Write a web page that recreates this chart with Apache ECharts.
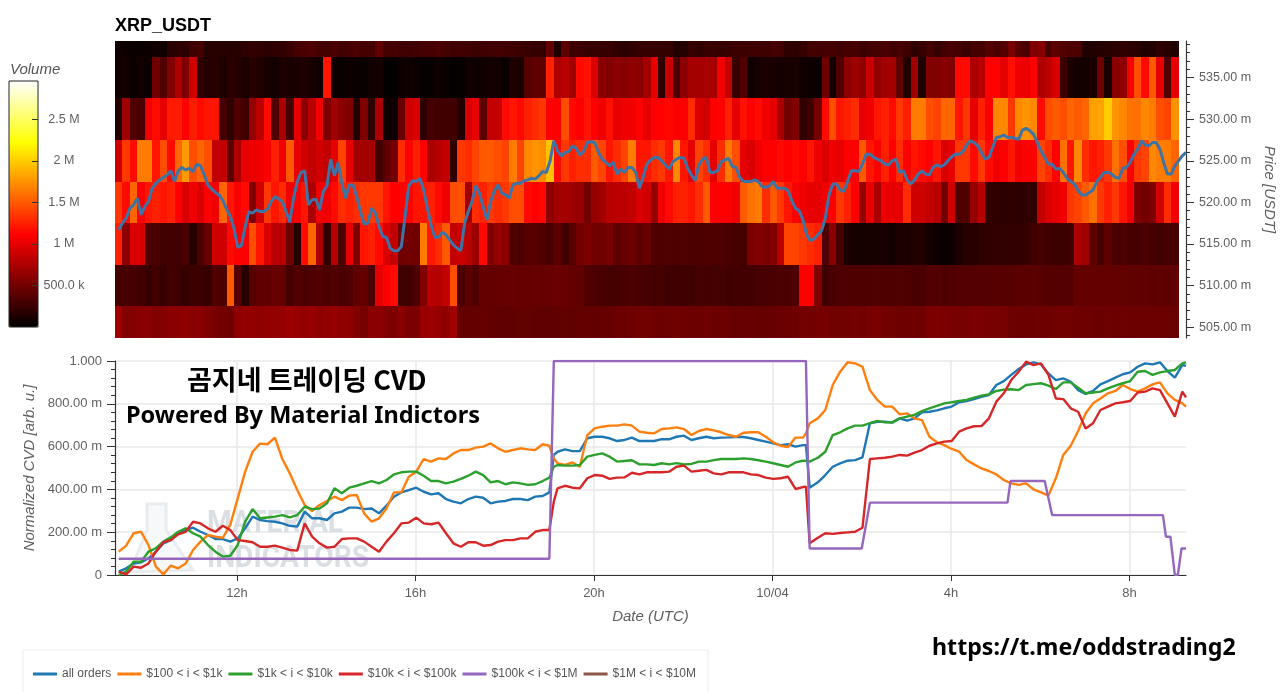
<!DOCTYPE html>
<html><head><meta charset="utf-8">
<style>html,body{margin:0;padding:0;background:#fff}#c{width:1280px;height:692px}</style>
<script src="https://cdn.jsdelivr.net/npm/echarts@6/dist/echarts.min.js"></script>
</head><body><div id="c"></div>
<script>
// ---------- heatmap: traded volume (thousands) per 10-minute column, one list per price level
const priceLevels = [505, 510, 515, 520, 525, 530, 535, 540];
const vol540 = [60,60,50,50,60,70,70,180,210,190,280,300,170,180,170,160,170,200,220,210,190,200,220,250,300,320,330,310,300,320,290,310,330,300,310,420,
300,300,280,270,290,300,310,320,300,280,290,270,260,280,270,290,280,270,260,250,240,230,440,130,400,260,270,240,250,230,250,200,190,210,230,240,
240,230,230,140,160,240,210,250,250,240,250,260,260,270,280,260,310,280,200,200,230,300,290,300,310,270,300,310,260,290,300,320,280,300,280,200,240,
300,230,290,320,290,250,310,300,380,320,370,520,380,320,550,580,320,400,360,340,330,150,140,160,170,190,210,190,170,130,150,200,170,140];
const vol535 = [60,90,50,80,50,480,340,560,760,550,900,200,150,170,130,190,160,120,170,150,100,90,130,110,120,130,100,80,1200,60,40,60,50,40,70,90,
20,20,60,70,50,30,30,60,50,20,30,70,60,70,90,80,50,130,120,380,420,400,1250,760,800,700,1150,1180,950,600,560,620,580,620,600,720,
1000,200,870,340,600,720,720,730,720,1050,850,250,350,80,100,120,110,90,100,110,70,60,50,480,100,350,620,680,620,870,640,700,720,420,150,700,150,
560,560,600,560,1150,1150,750,800,1100,1120,1000,1180,1050,1030,1100,750,820,950,260,120,90,90,110,480,100,600,620,1060,1450,1150,1500,1000,350,1000];
const vol530 = [150,700,350,320,1050,1150,1000,1220,1230,1100,1230,1150,1200,1200,300,200,350,280,650,820,1150,350,750,300,1000,600,800,1050,550,700,600,550,150,550,200,750,
60,60,450,900,950,200,300,280,280,280,150,950,1000,400,850,850,1150,1200,1150,1250,1300,1350,1100,1100,1450,1150,1100,1200,1100,1050,1180,1000,1050,1050,1100,1000,
1100,1120,1130,1100,1090,1300,950,900,1100,1120,1250,1000,1180,1100,1150,1050,1000,750,500,560,200,280,500,1150,1450,1200,1250,1300,1000,1050,1200,1250,1150,1350,1250,1650,1650,
1450,1400,1550,1550,1200,1350,1000,1250,1100,1700,1700,1350,1700,1750,1700,1150,1450,1500,1450,1550,1500,1550,1800,1820,2000,1750,1700,1600,1600,1700,1650,1450,1400,1750];
const vol525 = [900,1350,1150,1650,1650,1200,1450,1150,1550,1780,1450,1550,1450,850,850,400,750,1000,1020,1050,1100,1250,1050,1500,1000,900,850,900,850,1000,1400,1000,700,720,720,280,
400,500,1300,1100,1250,1100,750,800,850,200,1350,1300,1400,1500,1500,1450,1400,1650,1400,1700,1750,1720,1950,1150,1350,1250,1300,1300,1500,1400,1200,1300,1400,1650,1200,1200,
1300,1350,1200,1700,1200,1000,1400,1300,1000,1300,1650,1450,1000,950,1050,1100,1100,1150,1100,1150,1100,1200,1050,950,1050,1000,1100,1100,1500,1200,1100,1250,1100,1300,1100,1200,1150,
1100,1200,950,1000,1350,1350,1150,1350,1150,1050,1100,1200,1050,1100,1120,1400,1300,1120,1600,1200,1700,1300,1200,1250,1350,1600,1450,1100,1350,1400,1700,1650,1650,1550];
const vol520 = [1350,1150,1550,1100,1200,1250,1200,1250,1100,950,1050,950,1100,1050,1550,1200,1100,1150,550,900,1350,1200,1300,1050,1100,1200,750,1050,1050,1150,1300,1250,1300,1350,1350,1350,
1200,1100,1120,1120,1200,1200,1250,1150,1050,1450,1450,700,1300,1250,1350,1300,1350,1450,1450,1150,1120,1150,620,700,720,680,650,500,650,700,800,820,820,850,950,900,
650,1050,1150,1250,1250,1200,1300,1500,1100,1100,1100,1050,1500,1600,1650,1300,1500,1350,1200,1100,1050,1000,1000,1050,1100,1350,1250,1100,650,1000,750,1020,1000,1000,1300,900,900,
850,800,500,900,350,350,650,800,220,200,190,200,190,210,200,850,950,1000,1050,1350,1400,1500,1600,1350,1250,1350,1200,1050,550,500,550,900,1300,1050];
const vol515 = [1250,620,950,950,330,320,280,290,270,320,170,330,450,900,900,1150,1100,1100,1450,1200,950,800,800,480,160,1150,1550,750,220,800,320,1000,550,1200,1250,1150,
950,850,480,500,480,1650,1200,1300,1500,850,880,800,680,1150,550,650,600,350,320,380,380,350,320,400,280,380,500,550,500,480,520,400,450,480,400,450,
350,330,350,340,350,330,330,340,340,330,320,300,300,540,560,540,560,800,1400,1400,1350,1300,1250,350,600,300,120,100,100,110,100,110,80,120,120,150,140,
90,60,40,60,130,170,180,200,210,220,210,220,220,230,280,300,280,260,260,280,750,700,400,300,400,320,330,310,300,320,300,280,300,300];
const vol510 = [300,300,310,280,240,280,240,290,260,240,260,260,240,350,340,1500,380,180,380,420,420,450,440,300,360,320,340,360,330,360,320,340,420,440,320,1000,
1100,1150,280,280,350,560,800,780,850,1450,320,400,350,440,440,440,450,450,440,440,450,440,450,460,450,430,420,350,330,320,300,310,320,330,320,310,
290,300,270,280,270,280,300,290,300,300,280,290,290,290,300,320,320,330,320,350,1100,1100,550,280,320,330,340,340,340,340,350,340,340,350,340,320,320,
360,360,340,350,360,360,370,370,370,380,380,380,390,390,390,380,370,370,370,370,430,430,430,440,440,430,430,420,420,420,410,420,410,420];
const vol505 = [700,560,580,590,590,560,580,600,600,620,590,600,560,520,500,480,620,640,640,620,640,650,650,680,650,640,660,620,640,650,630,620,560,520,600,600,
560,540,600,540,540,660,680,650,630,700,430,430,440,440,420,420,420,420,430,430,420,420,420,420,430,420,430,430,420,440,450,460,470,480,490,490,
480,470,480,490,480,470,460,480,470,460,460,450,450,450,440,440,450,460,470,480,510,500,510,520,500,500,490,510,500,520,530,500,500,480,480,480,480,
540,540,530,520,520,520,530,530,520,520,520,480,470,470,470,480,480,490,490,490,480,480,470,460,480,470,480,470,470,470,460,470,460,460];
const volumeRows = [vol505, vol510, vol515, vol520, vol525, vol530, vol535, vol540];
const columnMinutes = 10;

// ---------- price line: one value every 5 minutes
const priceValues = [516.7,517.5,518.1,519.3,519.7,520.5,518.5,519.5,520.1,521.7,522.3,522.7,523.0,523.3,523.8,522.5,523.8,524.2,523.9,524.1,523.7,524.6,524.4,523.3,522.1,521.6,521.2,520.9,520.2,519.2,518.3,516.9,514.6,514.8,517.1,518.9,518.7,519.1,518.9,518.9,519.2,520.1,520.7,520.4,520.1,518.9,517.6,520.5,522.5,523.6,523.8,519.7,520.3,520.4,519.1,521.3,522.0,525.2,523.2,524.8,522.3,520.5,522.1,522.1,520.7,518.9,517.4,517.5,519.3,518.7,517.1,
515.9,515.8,514.5,514.2,514.2,514.7,518.3,522.0,522.6,522.5,522.9,521.5,519.3,517.3,515.8,515.8,516.4,516.1,515.5,514.9,514.5,514.2,517.5,518.9,520.1,522.0,521.1,519.5,517.9,520.1,521.4,522.1,521.1,520.9,520.5,522.1,522.3,522.3,522.6,522.7,522.9,522.8,523.2,523.7,523.6,525.0,527.4,526.2,525.6,526.0,526.1,526.8,526.5,525.7,526.1,527.2,527.3,527.2,526.0,525.2,524.8,524.4,524.8,523.4,524.0,523.6,524.2,524.2,523.6,521.7,523.0,524.6,525.1,
525.4,525.4,525.0,524.5,524.0,524.9,525.2,525.4,525.3,524.1,523.3,522.6,524.5,525.2,525.4,523.6,523.6,523.8,524.9,525.1,525.3,524.3,524.2,523.0,522.5,522.5,522.5,522.7,522.5,521.9,521.8,522.0,522.5,521.7,521.7,521.7,521.4,520.2,519.3,519.0,517.9,516.1,515.4,515.6,516.1,516.6,518.1,520.9,522.2,522.2,521.5,521.3,522.5,523.8,523.8,523.7,524.6,525.8,525.8,525.4,525.2,525.0,524.6,524.5,525.0,525.2,523.6,523.8,522.7,522.2,522.7,523.4,
523.8,523.4,523.3,524.2,524.5,524.3,524.5,525.0,525.5,525.8,525.8,526.1,526.9,527.4,527.2,526.8,526.0,525.2,525.4,526.6,527.8,527.9,528.1,527.8,527.8,527.7,527.6,528.7,528.9,528.6,528.2,527.2,526.2,525.4,524.6,524.6,524.0,524.1,523.6,522.9,522.5,522.2,521.4,520.9,520.9,521.2,521.5,522.5,523.0,523.6,523.6,523.4,523.0,522.9,524.1,524.2,524.8,525.8,526.4,527.4,526.9,526.8,527.2,527.2,526.4,524.8,523.4,523.4,524.4,525.0,525.6,526.0];
const priceStepMinutes = 5;

// ---------- normalized CVD
const cvdMinutes = [5,15,25,35,45,55,65,75,85,95,105,115,125,135,145,155,165,175,185,195,205,215,225,235,245,255,265,275,285,295,305,315,325,335,345,355,
365,375,385,395,405,415,425,435,445,455,465,475,485,495,505,515,525,535,545,555,565,575,584,590,595,605,615,625,635,645,655,665,675,685,695,705,715,
725,735,745,755,765,775,785,795,805,815,825,835,845,855,865,875,885,895,905,915,925,929,934,945,955,965,975,985,995,1005,1015,1025,1035,1045,1055,1065,1075,
1085,1095,1105,1115,1125,1135,1145,1155,1165,1175,1185,1195,1205,1215,1225,1235,1245,1255,1265,1275,1285,1295,1305,1315,1325,1335,1345,1355,1365,1375,1385,1395,1405,1415,1425,1435,1440];
const cvdAll = [16,31,54,59,78,109,148,163,195,210,221,202,187,168,168,156,171,218,273,257,252,249,241,230,226,296,265,265,257,288,296,315,315,308,311,288,
324,366,386,397,408,389,377,382,355,343,335,355,366,361,335,343,346,355,355,350,366,369,386,561,576,587,579,579,639,646,646,639,626,631,642,626,626,
626,635,634,646,651,631,639,646,639,642,643,645,645,639,631,623,615,607,611,600,607,607,408,433,467,506,522,534,537,550,709,716,716,712,732,721,732,
760,763,769,779,787,807,813,822,833,841,888,906,935,963,984,994,984,942,911,919,903,864,846,860,891,906,922,938,947,973,989,984,994,953,922,981,978];
const cvd100 = [109,137,195,202,140,39,3,44,31,54,117,156,187,179,174,234,358,483,576,614,611,642,542,475,397,327,299,327,346,366,350,371,374,288,249,265,
311,386,386,459,483,542,530,545,542,568,584,584,595,600,615,592,576,584,592,587,584,611,604,545,522,514,526,506,654,685,693,698,698,704,698,670,665,
662,682,685,690,682,654,673,682,676,667,654,646,665,667,667,646,620,604,598,642,642,662,709,732,771,888,950,994,989,973,864,818,787,787,751,755,732,
724,646,620,607,589,576,537,517,498,486,470,444,428,421,428,400,386,371,452,561,604,673,755,802,825,849,860,888,869,857,872,891,900,849,818,802,787];
const cvd1k = [0,16,62,62,109,125,156,176,202,218,195,179,140,109,86,90,140,249,308,265,269,273,280,269,280,319,308,311,335,405,382,408,417,428,439,428,
444,470,480,483,483,464,439,439,428,436,449,464,483,467,433,439,424,433,428,421,424,439,455,506,514,511,511,514,553,561,568,553,530,533,536,517,517,
514,522,517,523,517,519,530,530,537,542,542,542,545,542,536,530,522,514,506,526,534,534,530,548,576,654,667,685,698,698,710,720,713,713,732,740,748,
766,779,790,802,807,813,818,829,838,844,860,866,868,864,888,892,896,885,869,900,900,875,849,853,857,872,885,896,906,950,953,935,947,953,958,989,994];
const cvd10k = [16,3,39,34,54,109,153,163,190,202,249,241,218,202,230,210,163,159,153,132,132,137,128,117,114,241,179,148,128,132,168,171,171,156,132,109,
156,195,241,245,268,241,237,245,195,148,132,153,153,137,140,156,163,163,171,171,202,210,210,343,405,417,408,405,452,467,464,449,455,456,478,470,480,
480,480,483,506,511,483,487,491,475,470,480,480,480,470,467,455,449,452,459,402,411,413,148,174,195,192,196,199,202,221,542,545,548,553,561,558,572,
584,604,615,623,626,670,685,695,696,732,810,849,911,950,997,981,989,935,825,822,779,763,685,709,771,787,802,807,813,853,857,872,864,802,740,857,830];
const cvd100kMinutes = [5,584,590,929,934,1004,1015,1200,1204,1250,1260,1409,1413,1419,1425,1429,1434,1440];
const cvd100k = [76,76,1000,1000,124,124,338,338,439,439,280,280,179,179,0,0,124,124];
const cvd1M = [];

const seriesNames = ['all orders','$100 < i < $1k','$1k < i < $10k','$10k < i < $100k','$100k < i < $1M','$1M < i < $10M'];
const seriesColors = ['#1f77b4','#ff7f0e','#2ca02c','#d62728','#9467bd','#8c564b'];

// ---------- ticks
const timeTickMinutes = [164,404,644,884,1124,1364];
const timeTickLabels = ['12h','16h','20h','10/04','4h','8h'];
const priceTicks = [505,510,515,520,525,530,535];
const priceMinorTicks = [504,505,506,507,508,509,510,511,512,513,514,515,516,517,518,519,520,521,522,523,524,525,526,527,528,529,530,531,532,533,534,535,536,537,538,539];
const volumeTicks = [500,1000,1500,2000,2500];
const volumeTickLabels = ['500.0 k','1 M','1.5 M','2 M','2.5 M'];
const hotPalette = ['#000000','#550000','#aa0000','#ff0000','#ff5500','#ffaa00','#ffff00','#ffff80','#ffffff'];

const heatData = [];
volumeRows.forEach((row, r) => row.forEach((v, i) => heatData.push([i * columnMinutes, priceLevels[r], v])));
const pricePoints = priceValues.map((p, i) => [(i + 1) * priceStepMinutes, p]);
const pair = (xs, ys) => xs.map((x, i) => [x, ys[i] / 1000]);

const F = '"Liberation Sans", Arial, sans-serif';
const G = '#5f5f5f';

function renderCell(params, api) {
  const a = api.coord([api.value(0), api.value(1) + 2.5]);
  const b = api.coord([api.value(0) + columnMinutes, api.value(1) - 2.5]);
  const cs = params.coordSys;
  const rect = echarts.graphic.clipRectByRect(
    {x: Math.round(a[0]), y: Math.round(a[1]), width: Math.round(b[0]) - Math.round(a[0]), height: Math.round(b[1]) - Math.round(a[1])},
    {x: cs.x, y: cs.y, width: cs.width, height: cs.height});
  return rect && {type: 'rect', shape: rect, style: {fill: api.visual('color')}};
}

const lineSeries = (i, data) => ({
  name: seriesNames[i], type: 'line', xAxisIndex: 1, yAxisIndex: 2, data, showSymbol: false, symbol: 'none',
  smooth: false, lineStyle: {width: 2.4, color: seriesColors[i]}, itemStyle: {color: seriesColors[i]}, z: 3 + i
});

const chart = echarts.init(document.getElementById('c'), null, {renderer: 'canvas'});
chart.setOption({
  animation: false,
  backgroundColor: '#fff',
  grid: [
    {left: 115, top: 41, width: 1071, height: 297, outerBoundsMode: 'none'},
    {left: 115, top: 361, width: 1071, height: 214, outerBoundsMode: 'none'},
    {left: 9, top: 81, width: 29, height: 246, outerBoundsMode: 'none', show: true, borderColor: '#222', borderWidth: 1, backgroundColor: 'transparent', z: 10}
  ],
  xAxis: [
    {gridIndex: 0, type: 'value', min: 0, max: 1440, show: false},
    {gridIndex: 1, type: 'value', min: 0, max: 1440,
      name: 'Date (UTC)', nameLocation: 'middle', nameGap: 34,
      nameTextStyle: {fontFamily: F, fontStyle: 'italic', fontSize: 15, color: G},
      axisLine: {onZero: false, lineStyle: {color: '#333', width: 1.2}},
      axisTick: {customValues: timeTickMinutes, length: 6, lineStyle: {color: '#333'}},
      axisLabel: {customValues: timeTickMinutes, margin: 12, fontFamily: F, fontSize: 13, color: G,
        formatter: v => timeTickLabels[timeTickMinutes.indexOf(v)] || ''},
      splitLine: {show: true, lineStyle: {color: '#e8e8e8', width: 1.5}}},
    {gridIndex: 2, type: 'value', min: 0, max: 1, show: false}
  ],
  yAxis: [
    {gridIndex: 0, type: 'value', min: 503.7, max: 539.4, position: 'right',
      name: 'Price [USDT]', nameLocation: 'middle', nameRotate: -90, nameGap: 73,
      nameTextStyle: {fontFamily: F, fontStyle: 'italic', fontSize: 15, color: G},
      axisLine: {show: true, onZero: false, lineStyle: {color: '#333', width: 1.2}},
      axisTick: {show: true, customValues: priceTicks, length: 8, lineStyle: {color: '#333'}},
      axisLabel: {customValues: priceTicks, margin: 13, fontFamily: F, fontSize: 12.5, color: G,
        formatter: v => v.toFixed(2) + ' m'},
      splitLine: {show: false}},
    {gridIndex: 0, type: 'value', min: 503.7, max: 539.4, position: 'right',
      axisLine: {show: false, onZero: false}, axisLabel: {show: false}, splitLine: {show: false},
      axisTick: {show: true, customValues: priceMinorTicks, length: 4, lineStyle: {color: '#333'}}},
    {gridIndex: 1, type: 'value', min: 0, max: 1, interval: 0.2, position: 'left',
      name: 'Normalized CVD [arb. u.]', nameLocation: 'middle', nameRotate: 90, nameGap: 73,
      nameTextStyle: {fontFamily: F, fontStyle: 'italic', fontSize: 15, color: G},
      axisLine: {show: true, onZero: false, lineStyle: {color: '#333', width: 1.2}},
      axisTick: {show: true, length: 8, lineStyle: {color: '#333'}},
      minorTick: {show: true, splitNumber: 5, length: 4, lineStyle: {color: '#333'}},
      axisLabel: {margin: 13, fontFamily: F, fontSize: 13, color: G,
        formatter: v => v === 0 ? '0' : v >= 0.999 ? '1.000' : (v * 1000).toFixed(2) + ' m'},
      splitLine: {show: true, lineStyle: {color: '#e8e8e8', width: 1.5}}},
    {gridIndex: 2, type: 'value', min: 0, max: 2960, position: 'right', z: 11,
      axisLine: {show: false, onZero: false}, splitLine: {show: false},
      axisTick: {show: true, inside: true, customValues: volumeTicks, length: 6, lineStyle: {color: '#333'}},
      axisLabel: {customValues: volumeTicks, align: 'center', margin: 26, fontFamily: F, fontSize: 12.5, color: G,
        formatter: v => volumeTickLabels[volumeTicks.indexOf(v)] || ''}}
  ],
  visualMap: {
    type: 'continuous', seriesIndex: 0, dimension: 2, min: 0, max: 2960, left: 9, top: 81,
    itemWidth: 29, itemHeight: 246, padding: 0, text: null, showLabel: false, calculable: false, hoverLink: false,
    inRange: {color: hotPalette}
  },
  legend: {
    left: 33, top: 668, itemWidth: 24, itemHeight: 3, itemGap: 6, padding: 0, icon: 'rect',
    data: seriesNames, selectedMode: false,
    textStyle: {fontFamily: F, fontSize: 12, color: '#555'}
  },
  series: [
    {type: 'custom', xAxisIndex: 0, yAxisIndex: 0, renderItem: renderCell, data: heatData, encode: {x: 0, y: 1}, clip: true, z: 1, silent: true, progressive: 0},
    {type: 'line', xAxisIndex: 0, yAxisIndex: 0, data: pricePoints, symbol: 'none', smooth: false,
      lineStyle: {width: 3, color: '#3e73a6'}, z: 4, silent: true},
    lineSeries(0, pair(cvdMinutes, cvdAll)),
    lineSeries(1, pair(cvdMinutes, cvd100)),
    lineSeries(2, pair(cvdMinutes, cvd1k)),
    lineSeries(3, pair(cvdMinutes, cvd10k)),
    lineSeries(4, pair(cvd100kMinutes, cvd100k)),
    lineSeries(5, cvd1M)
  ],
  graphic: [
    {type: 'text', left: 115, top: 17, style: {text: 'XRP_USDT', font: 'bold 18px ' + F, fill: '#000'}},
    {type: 'text', left: 10, top: 62, style: {text: 'Volume', font: 'italic 15px ' + F, fill: '#555'}},
    {type: 'rect', z: 0, shape: {x: 23, y: 650, width: 685, height: 60}, style: {fill: '#fff', stroke: '#eeeeee', lineWidth: 1}},
    {type: 'polygon', z: 1, shape: {points: [[147,504],[166,504],[166,530],[193,570],[130,572],[147,530]]}, style: {fill: '#f7f8f9', stroke: '#e9ecee', lineWidth: 3}},
    {type: 'text', z: 1, x: 207, y: 508, scaleX: 0.88, style: {text: 'MATERIAL', font: 'bold 32px Roboto', fill: '#dadfe4'}},
    {type: 'text', z: 1, x: 207, y: 543, scaleX: 0.88, style: {text: 'INDICATORS', font: 'bold 32px Roboto', fill: '#dadfe4'}},
    {type: 'text', z: 50, left: 187, top: 366, style: {text: '곰지네 트레이딩 CVD', font: 'bold 27px "Noto Sans CJK KR"', fill: '#000'}},
    {type: 'text', z: 50, left: 126, top: 404, style: {text: 'Powered By Material Indictors', font: 'bold 23.5px "Noto Sans"', fill: '#000'}},
    {type: 'text', z: 50, left: 932, top: 637, style: {text: 'https://t.me/oddstrading2', font: 'bold 23.2px "Noto Sans"', fill: '#000'}}
  ]
});
</script></body></html>
